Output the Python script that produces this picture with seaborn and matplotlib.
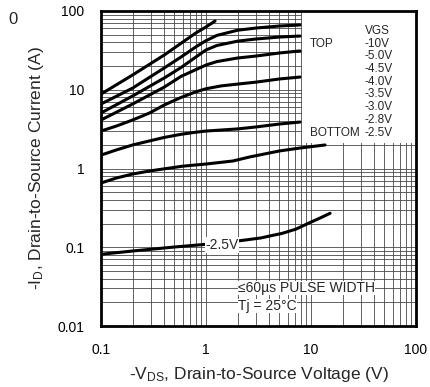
import numpy as np
import pandas as pd
import matplotlib
matplotlib.use("Agg")
import matplotlib.pyplot as plt
from matplotlib.patches import Rectangle
from matplotlib.ticker import LogLocator, FixedLocator, FixedFormatter, NullFormatter
import seaborn as sns

# Output characteristics: -ID vs -VDS for several gate voltages
vgs_labels = ["-10V", "-5.0V", "-4.5V", "-4.0V", "-3.5V", "-3.0V", "-2.8V", "-2.5V"]

vds_10 = [0.1, 0.2, 0.4, 0.8, 1.0, 1.22]
id_10 = [8.8, 15.4, 27.6, 52.6, 62.7, 74.6]

vds_50 = [0.1, 0.2, 0.4, 0.58, 0.8, 1.0, 1.27, 2.0, 3.0, 5.0, 7.85]
id_50 = [6.59, 10.5, 18.9, 26.1, 35.0, 42.0, 49.0, 57.0, 60.8, 64.5, 66.4]

vds_45 = [0.1, 0.2, 0.4, 0.58, 0.8, 1.0, 1.27, 2.0, 3.0, 5.0, 7.85]
id_45 = [5.07, 8.33, 14.1, 19.2, 26.0, 32.0, 36.5, 41.4, 44.1, 46.7, 48.1]

vds_40 = [0.1, 0.2, 0.4, 0.58, 0.8, 1.0, 1.27, 2.0, 3.0, 5.0, 7.85]
id_40 = [4.13, 6.59, 10.8, 14.8, 18.0, 20.6, 22.8, 25.3, 26.8, 29.3, 31.1]

vds_35 = [0.1, 0.14, 0.2, 0.29, 0.4, 0.58, 0.8, 1.0, 1.4, 2.0, 3.0, 5.0, 7.85]
id_35 = [2.99, 3.46, 4.13, 5.07, 6.40, 8.00, 9.40, 10.3, 11.2, 11.8, 12.5, 13.7, 14.5]

vds_30 = [0.1, 0.14, 0.2, 0.29, 0.4, 0.58, 0.8, 1.0, 2.0, 3.0, 5.0, 7.85]
id_30 = [1.48, 1.72, 1.99, 2.24, 2.48, 2.72, 2.89, 2.99, 3.18, 3.37, 3.67, 3.89]

vds_28 = [0.1, 0.14, 0.2, 0.29, 0.4, 0.6, 1.0, 1.8, 2.6, 5.0, 7.85, 13.6]
id_28 = [0.655, 0.757, 0.851, 0.93, 0.99, 1.07, 1.14, 1.245, 1.40, 1.67, 1.82, 1.99]

vds_25 = [0.1, 0.2, 0.5, 1.0, 2.0, 3.3, 5.3, 7.2, 9.4, 12.2, 15.2]
id_25 = [0.0814, 0.0896, 0.1007, 0.109, 0.120, 0.131, 0.150, 0.170, 0.201, 0.235, 0.270]

x_ticks = [0.1, 1, 10, 100]
x_ticklabels = ["0.1", "1", "10", "100"]
y_ticks = [0.01, 0.1, 1, 10, 100]
y_ticklabels = ["0.01", "0.1", "1", "10", "100"]

series = [vds_10, vds_50, vds_45, vds_40, vds_35, vds_30, vds_28, vds_25]
values = [id_10, id_50, id_45, id_40, id_35, id_30, id_28, id_25]

frames = []
for lab, xs, ys in zip(vgs_labels, series, values):
    frames.append(pd.DataFrame({"VDS": xs, "ID": ys, "VGS": lab}))
df = pd.concat(frames, ignore_index=True)

sns.set_style("white")
plt.rcParams["font.family"] = ["Liberation Sans", "DejaVu Sans"]
plt.rcParams["mathtext.fontset"] = "custom"
plt.rcParams["mathtext.rm"] = "Liberation Sans"
plt.rcParams["mathtext.it"] = "Liberation Sans:italic"

fig = plt.figure(figsize=(4.31, 3.87), dpi=100)
ax = fig.add_axes([101 / 431, 1 - 326 / 387, 315 / 431, 315 / 387])

sns.lineplot(data=df, x="VDS", y="ID", hue="VGS", palette=["black"] * len(vgs_labels),
             estimator=None, sort=False, linewidth=2.2, legend=False, ax=ax, zorder=3)
for ln in ax.get_lines():
    ln.set_solid_joinstyle("round")
    ln.set_solid_capstyle("round")

ax.set_xscale("log")
ax.set_yscale("log")
ax.set_xlim(0.1, 100)
ax.set_ylim(0.01, 100)

ax.xaxis.set_major_locator(FixedLocator(x_ticks))
ax.xaxis.set_major_formatter(FixedFormatter(x_ticklabels))
ax.yaxis.set_major_locator(FixedLocator(y_ticks))
ax.yaxis.set_major_formatter(FixedFormatter(y_ticklabels))
ax.xaxis.set_minor_locator(LogLocator(base=10, subs=np.arange(2, 10)))
ax.yaxis.set_minor_locator(LogLocator(base=10, subs=np.arange(2, 10)))
ax.xaxis.set_minor_formatter(NullFormatter())
ax.yaxis.set_minor_formatter(NullFormatter())

ax.grid(True, which="both", color="0.28", linewidth=0.6)
ax.set_axisbelow(True)
ax.tick_params(which="both", length=0, labelsize=10, pad=12, colors="black")

for sp in ax.spines.values():
    sp.set_linewidth(2.0)
    sp.set_color("black")
    sp.set_zorder(6)

ax.set_xlabel(r"-V$_{\mathrm{DS}}$, Drain-to-Source Voltage (V)", fontsize=12.5, labelpad=6)
ax.set_ylabel(r"-I$_{\mathrm{D}}$, Drain-to-Source Current (A)", fontsize=12.5, labelpad=8)

# legend panel in the upper right
ax.add_patch(Rectangle((0.638, 0.581), 0.362, 0.419, transform=ax.transAxes,
                       facecolor="white", edgecolor="none", zorder=4))
y0 = (326 - 31) / 315
dy = 12.7 / 315
ax.text(0.877, y0, "VGS", transform=ax.transAxes, fontsize=8.5, ha="center", va="center", zorder=5)
for i, lab in enumerate(vgs_labels):
    ax.text(0.838, y0 - dy * (i + 1), lab, transform=ax.transAxes, fontsize=8.5,
            ha="left", va="center", zorder=5)
ax.text(0.662, y0 - dy, "TOP", transform=ax.transAxes, fontsize=8.5, ha="left", va="center", zorder=5)
ax.text(0.662, y0 - dy * 8, "BOTTOM", transform=ax.transAxes, fontsize=8.5, ha="left",
        va="center", zorder=5)

# curve label for the lowest gate voltage
ax.text(1.42, 0.107, "-2.5V", fontsize=10, ha="center", va="center", zorder=5,
        bbox=dict(facecolor="white", edgecolor="none", pad=0.5))

ax.text(0.435, (326 - 288) / 315, "≤60µs PULSE WIDTH", transform=ax.transAxes, fontsize=10,
        ha="left", va="center", zorder=5,
        bbox=dict(facecolor="white", edgecolor="none", pad=0.3))
ax.text(0.435, (326 - 306) / 315, "Tj = 25°C", transform=ax.transAxes, fontsize=10,
        ha="left", va="center", zorder=5,
        bbox=dict(facecolor="white", edgecolor="none", pad=0.3))

fig.text(8 / 431, 1 - 19 / 387, "0", fontsize=12, ha="left", va="center")

fig.savefig("out.png", dpi=100)
